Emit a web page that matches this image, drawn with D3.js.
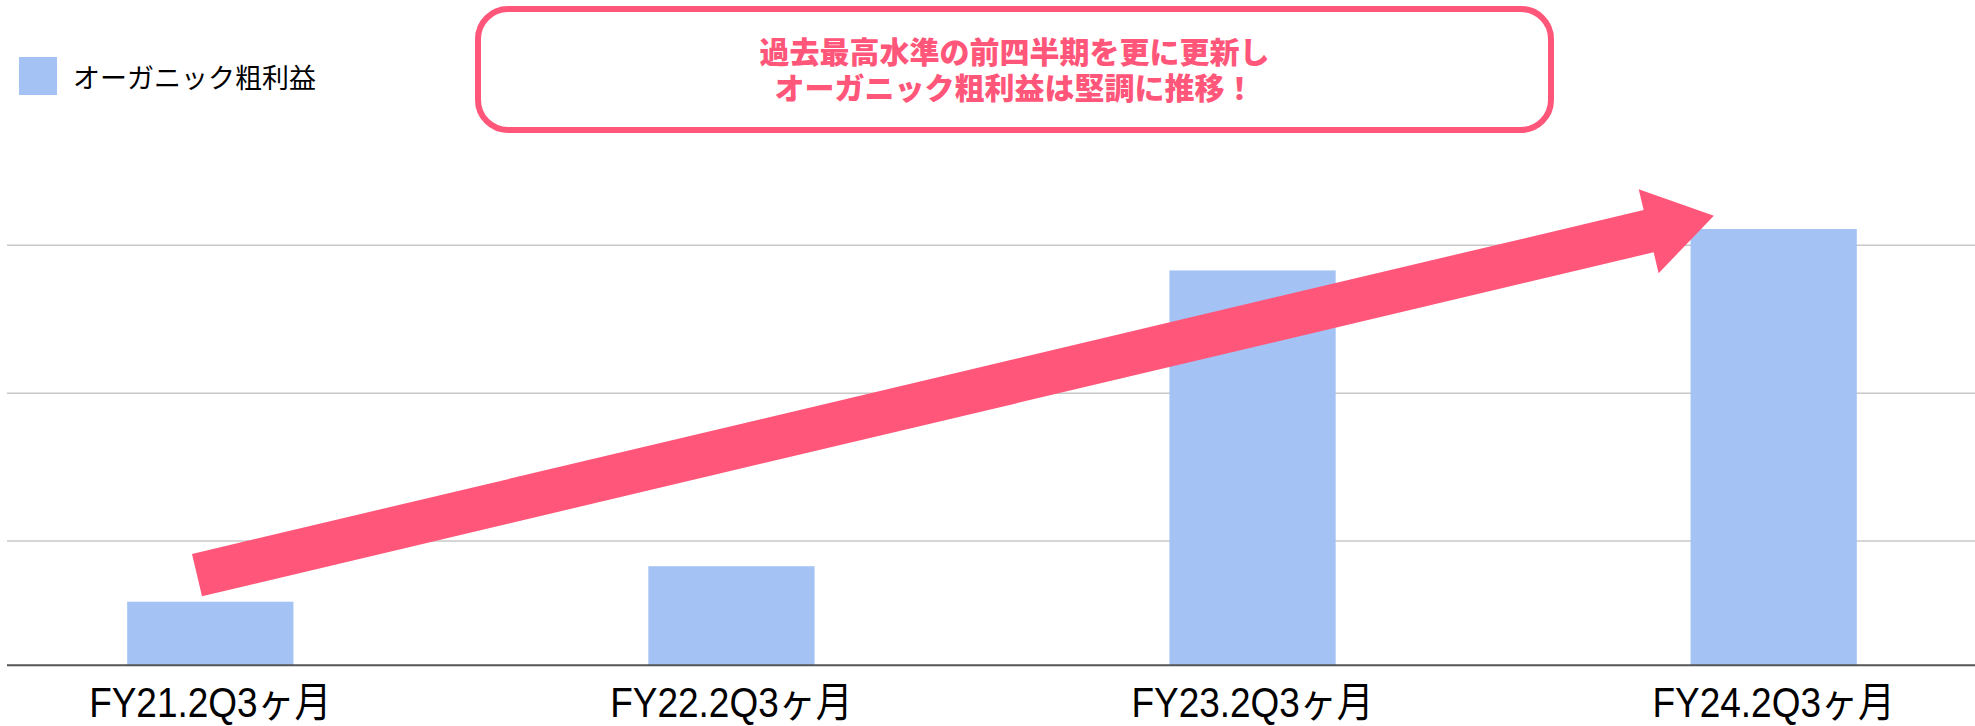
<!DOCTYPE html>
<html lang="ja">
<head>
  <meta charset="UTF-8">
  <title>オーガニック粗利益</title>
  <style>
    body { margin: 0; background: #fff; }
    svg { display: block; }
  </style>
</head>
<body>
  <div id="chart"></div>

  <script src="https://d3js.org/d3.v7.min.js"></script>
  <script>
    // data (no axis labels shown, units are arbitrary)
    const categories = ['FY21.2Q3ヶ月', 'FY22.2Q3ヶ月', 'FY23.2Q3ヶ月', 'FY24.2Q3ヶ月'];
    const grossProfit = [59, 83, 283, 311];
    const gridValues = [100, 200, 300];
    const seriesName = 'オーガニック粗利益';
    const calloutLines = ['過去最高水準の前四半期を更に更新し', 'オーガニック粗利益は堅調に推移！'];

    const width = 1975, height = 726;
    const barColor = '#a4c2f4';
    const pink = '#ff567a';

    const svg = d3.select('#chart').append('svg')
      .attr('width', width)
      .attr('height', height);

    const x = d3.scaleBand()
      .domain(categories)
      .range([-50, 2034])
      .paddingInner(0.681)
      .paddingOuter(0.34);

    const y = d3.scaleLinear()
      .domain([16, 300])
      .range([665.3, 245.3]);

    // gridlines
    svg.append('g')
      .selectAll('line')
      .data(gridValues)
      .enter().append('line')
        .attr('x1', 7).attr('x2', width)
        .attr('y1', d => y(d)).attr('y2', d => y(d))
        .attr('stroke', '#c8c8c8')
        .attr('stroke-width', 1.6);

    // bars
    svg.append('g')
      .selectAll('rect')
      .data(categories)
      .enter().append('rect')
        .attr('x', d => x(d))
        .attr('width', x.bandwidth())
        .attr('y', (d, i) => y(grossProfit[i]))
        .attr('height', (d, i) => y(y.domain()[0]) - y(grossProfit[i]))
        .attr('fill', barColor);

    // baseline
    svg.append('line')
      .attr('x1', 7).attr('x2', width)
      .attr('y1', y(y.domain()[0])).attr('y2', y(y.domain()[0]))
      .attr('stroke', '#555')
      .attr('stroke-width', 2);

    // x axis labels (narrow look like the original)
    const xAxis = d3.axisBottom(x).tickSize(0);
    const axisG = svg.append('g')
      .attr('transform', `translate(0,${y(y.domain()[0])})`)
      .call(xAxis);
    axisG.select('.domain').remove();
    axisG.selectAll('text')
      .attr('y', 52)
      .attr('dy', 0)
      .attr('transform', 'scale(0.88,1)')
      .attr('fill', '#000')
      .style('font-family', '"Liberation Sans", Arial, "Noto Sans CJK JP", sans-serif')
      .style('font-size', '42px');

    // trend arrow, anchored to the first and last bars
    const arrowFrom = { cat: categories[0], frac: 0.42, value: 77 };
    const arrowTo = { cat: categories[3], frac: 0.14, value: 320 };
    const ax0 = x(arrowFrom.cat) + x.bandwidth() * arrowFrom.frac, ay0 = y(arrowFrom.value);
    const ax1 = x(arrowTo.cat) + x.bandwidth() * arrowTo.frac, ay1 = y(arrowTo.value);
    const len = Math.hypot(ax1 - ax0, ay1 - ay0);
    const ang = Math.atan2(ay1 - ay0, ax1 - ax0) * 180 / Math.PI;
    const shaftHalf = 21.7, headLen = 67, headHalf = 43.2;
    const arrowPts = [
      [0, -shaftHalf], [len - headLen, -shaftHalf], [len - headLen, -headHalf],
      [len, 0],
      [len - headLen, headHalf], [len - headLen, shaftHalf], [0, shaftHalf]
    ];
    svg.append('polygon')
      .attr('points', arrowPts.map(p => p.join(',')).join(' '))
      .attr('transform', `translate(${ax0},${ay0}) rotate(${ang})`)
      .attr('fill', pink);

    // legend
    const legend = svg.append('g').attr('transform', 'translate(19,57)');
    legend.append('rect')
      .attr('width', 38).attr('height', 38)
      .attr('fill', barColor);
    legend.append('text')
      .attr('x', 54).attr('y', 19)
      .attr('dominant-baseline', 'central')
      .style('font-family', '"Noto Sans CJK JP", sans-serif')
      .style('font-size', '27px')
      .attr('fill', '#000')
      .text(seriesName);

    // callout box
    const callout = svg.append('g');
    callout.append('rect')
      .attr('x', 478).attr('y', 9)
      .attr('width', 1073).attr('height', 121)
      .attr('rx', 30).attr('ry', 30)
      .attr('fill', '#fff')
      .attr('stroke', pink)
      .attr('stroke-width', 6);
    callout.append('text')
      .attr('text-anchor', 'middle')
      .style('font-family', '"Noto Sans CJK JP", sans-serif')
      .style('font-weight', 900)
      .style('font-size', '30px')
      .attr('fill', pink)
      .selectAll('tspan')
      .data(calloutLines)
      .enter().append('tspan')
        .attr('x', 1014.5)
        .attr('y', (d, i) => 63 + i * 35.5)
        .text(d => d);
  </script>
</body>
</html>
